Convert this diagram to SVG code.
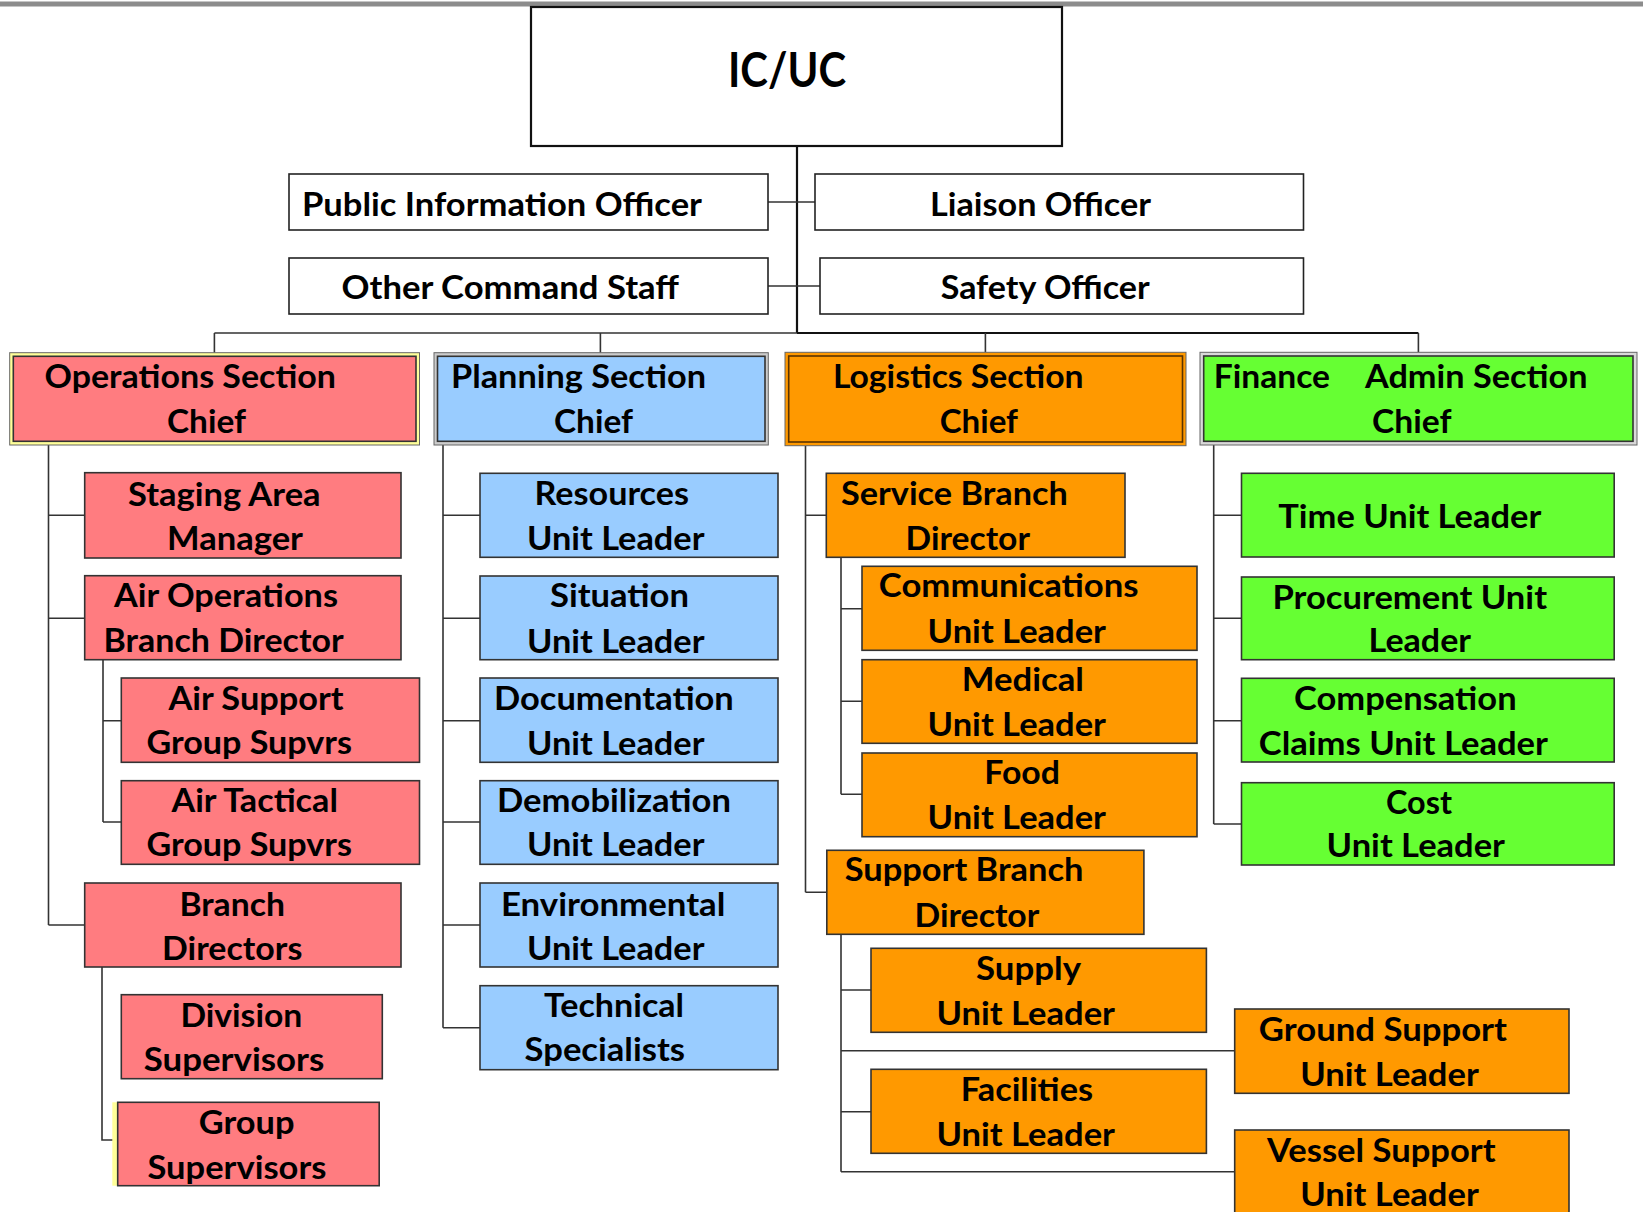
<svg xmlns="http://www.w3.org/2000/svg" width="1643" height="1212" viewBox="0 0 1643 1212">
<style>
.t{font-family:Lato,"Liberation Sans",sans-serif;font-weight:700;font-size:32px;fill:#000}
.big{font-size:47px}
.wb{fill:#fff;stroke:#222;stroke-width:1.6}
.ic{fill:#fff;stroke:#111;stroke-width:2.2}
.r{fill:#FF7C80;stroke:#333;stroke-width:1.6}
.b{fill:#99CCFF;stroke:#333;stroke-width:1.6}
.o{fill:#FF9900;stroke:#333;stroke-width:1.6}
.g{fill:#66FF33;stroke:#333;stroke-width:1.6}
.oi{fill:#FF9900;stroke:#5a3300;stroke-width:1.6}
.band{stroke:#666;stroke-width:1}
.c{fill:none;stroke:#333;stroke-width:1.6}
.cb{fill:none;stroke:#111;stroke-width:2.2}
</style>
<rect x="0" y="0" width="1643" height="1212" fill="#fff"/>
<rect x="0" y="1.5" width="1643" height="5" fill="#8c8c8c"/>
<g id="connectors">
<path class="cb" d="M797,146V333M797,333H1418.4"/>
<path class="c" d="M768,202H815M768,286H820M214.4,333H797M214.4,333V352.7M600.4,333V352.7M985.4,333V352.3M1418.4,333V352.3"/>
<path class="c" d="M48.5,445V925M48.5,515.3H84.7M48.5,618.3H84.7M48.5,925H84.7"/>
<path class="c" d="M103,659.7V822M103,720.7H121.3M103,822H121.3"/>
<path class="c" d="M102,967V1140H117.7"/>
<path class="c" d="M443,445V1027.7M443,515.3H480M443,618.3H480M443,720.7H480M443,822H480M443,925H480M443,1027.7H480"/>
<path class="c" d="M805.5,445.7V892.3M805.5,515.3H826.3M805.5,892.3H826.8"/>
<path class="c" d="M841,557.3V794.3M841,608.7H862M841,701.3H862M841,794.3H862"/>
<path class="c" d="M841,934.3V1171.7M841,990H871M841,1111.7H871M841,1050.7H1234.7M841,1171.7H1234.7"/>
<path class="c" d="M1213.7,445V824M1213.7,515.3H1241.5M1213.7,618.3H1241.5M1213.7,720.7H1241.5M1213.7,824H1241.5"/>
</g>
<g id="ic"><rect class="ic" x="531" y="7" width="531" height="139"/><text class="t big" x="728" y="87" textLength="118" lengthAdjust="spacingAndGlyphs">IC/UC</text></g>
<g id="pio"><rect class="wb" x="289" y="174" width="479" height="56"/><text class="t" x="302" y="215.5" textLength="400" lengthAdjust="spacingAndGlyphs">Public Information Officer</text></g>
<g id="ocs"><rect class="wb" x="289" y="258" width="479" height="56"/><text class="t" x="341.5" y="298.5" textLength="337.5" lengthAdjust="spacingAndGlyphs">Other Command Staff</text></g>
<g id="liaison"><rect class="wb" x="815" y="174" width="488.5" height="56"/><text class="t" x="930" y="215.5" textLength="221" lengthAdjust="spacingAndGlyphs">Liaison Officer</text></g>
<g id="safety"><rect class="wb" x="820" y="258" width="483.5" height="56"/><text class="t" x="940.7" y="298.5" textLength="209" lengthAdjust="spacingAndGlyphs">Safety Officer</text></g>

<g id="ops"><rect class="band" x="9.7" y="352.7" width="409.8" height="92.3" fill="#FFFF99"/><rect class="r" x="13.3" y="356.3" width="402.7" height="85"/>
<text class="t" x="44.5" y="388" textLength="291.5" lengthAdjust="spacingAndGlyphs">Operations Section</text><text class="t" x="167" y="432.5" textLength="79" lengthAdjust="spacingAndGlyphs">Chief</text></g>
<g id="planning"><rect class="band" x="434" y="352.7" width="334.3" height="92.3" fill="#CCCCCC"/><rect class="b" x="437.5" y="356.3" width="327.5" height="85"/>
<text class="t" x="451" y="388" textLength="255" lengthAdjust="spacingAndGlyphs">Planning Section</text><text class="t" x="554" y="432.5" textLength="79" lengthAdjust="spacingAndGlyphs">Chief</text></g>
<g id="logistics"><rect class="band" x="785" y="352.3" width="401" height="93.4" fill="#FF9900"/><rect class="oi" x="788.7" y="356" width="393.8" height="86"/>
<text class="t" x="833" y="388" textLength="250.5" lengthAdjust="spacingAndGlyphs">Logistics Section</text><text class="t" x="939.7" y="432.5" textLength="78.3" lengthAdjust="spacingAndGlyphs">Chief</text></g>
<g id="finance"><rect class="band" x="1200" y="352.3" width="437" height="92.7" fill="#D9D9D9"/><rect class="g" x="1203.7" y="356" width="429.3" height="85.3"/>
<text class="t" y="388"><tspan x="1213.7" textLength="116.3" lengthAdjust="spacingAndGlyphs">Finance</tspan> <tspan x="1365" textLength="222.5" lengthAdjust="spacingAndGlyphs">Admin Section</tspan></text><text class="t" x="1372" y="432.5" textLength="79.5" lengthAdjust="spacingAndGlyphs">Chief</text></g>

<g id="staging"><rect class="r" x="84.7" y="472.7" width="316.3" height="85.3"/><text class="t" x="128" y="505.5" textLength="192.6" lengthAdjust="spacingAndGlyphs">Staging Area</text><text class="t" x="167" y="549.5" textLength="136" lengthAdjust="spacingAndGlyphs">Manager</text></g>
<g id="airops"><rect class="r" x="84.7" y="575.7" width="316.3" height="84"/><text class="t" x="114" y="607" textLength="224" lengthAdjust="spacingAndGlyphs">Air Operations</text><text class="t" x="103.6" y="652" textLength="240" lengthAdjust="spacingAndGlyphs">Branch Director</text></g>
<g id="airsupport"><rect class="r" x="121.3" y="678" width="298.2" height="84.3"/><text class="t" x="168.4" y="709.5" textLength="175.2" lengthAdjust="spacingAndGlyphs">Air Support</text><text class="t" x="146.4" y="753.5" textLength="205.6" lengthAdjust="spacingAndGlyphs">Group Supvrs</text></g>
<g id="airtactical"><rect class="r" x="121.3" y="780.7" width="298.2" height="83.6"/><text class="t" x="171.5" y="812" textLength="166.4" lengthAdjust="spacingAndGlyphs">Air Tactical</text><text class="t" x="146.4" y="855.5" textLength="205.6" lengthAdjust="spacingAndGlyphs">Group Supvrs</text></g>
<g id="branchdirectors"><rect class="r" x="84.7" y="883" width="316.3" height="84"/><text class="t" x="179.4" y="915.5" textLength="105.6" lengthAdjust="spacingAndGlyphs">Branch</text><text class="t" x="162" y="959.5" textLength="140.3" lengthAdjust="spacingAndGlyphs">Directors</text></g>
<g id="division"><rect class="r" x="121.3" y="994.7" width="261" height="84"/><text class="t" x="180.4" y="1027" textLength="121.9" lengthAdjust="spacingAndGlyphs">Division</text><text class="t" x="143.8" y="1071" textLength="180.5" lengthAdjust="spacingAndGlyphs">Supervisors</text></g>
<g id="group"><rect x="112.3" y="1102.3" width="5.4" height="83.4" fill="#FFFF99"/><rect class="r" x="117.7" y="1102.3" width="261.5" height="83.4"/><text class="t" x="198.7" y="1133.5" textLength="95.8" lengthAdjust="spacingAndGlyphs">Group</text><text class="t" x="147.5" y="1178.5" textLength="178.9" lengthAdjust="spacingAndGlyphs">Supervisors</text></g>

<g id="resources"><rect class="b" x="480" y="473.3" width="298" height="84"/><text class="t" x="534.5" y="504.5" textLength="154.5" lengthAdjust="spacingAndGlyphs">Resources</text><text class="t" x="527" y="549.5" textLength="177.5" lengthAdjust="spacingAndGlyphs">Unit Leader</text></g>
<g id="situation"><rect class="b" x="480" y="576" width="298" height="83.7"/><text class="t" x="550" y="607" textLength="139" lengthAdjust="spacingAndGlyphs">Situation</text><text class="t" x="527" y="652.5" textLength="177.5" lengthAdjust="spacingAndGlyphs">Unit Leader</text></g>
<g id="documentation"><rect class="b" x="480" y="678" width="298" height="84.3"/><text class="t" x="494" y="709.5" textLength="239.8" lengthAdjust="spacingAndGlyphs">Documentation</text><text class="t" x="527" y="754.5" textLength="177.5" lengthAdjust="spacingAndGlyphs">Unit Leader</text></g>
<g id="demobilization"><rect class="b" x="480" y="780.7" width="298" height="83.6"/><text class="t" x="497" y="812" textLength="234" lengthAdjust="spacingAndGlyphs">Demobilization</text><text class="t" x="527" y="855.5" textLength="177.5" lengthAdjust="spacingAndGlyphs">Unit Leader</text></g>
<g id="environmental"><rect class="b" x="480" y="883" width="298" height="84"/><text class="t" x="501" y="915.5" textLength="224.4" lengthAdjust="spacingAndGlyphs">Environmental</text><text class="t" x="527" y="959.5" textLength="177.5" lengthAdjust="spacingAndGlyphs">Unit Leader</text></g>
<g id="technical"><rect class="b" x="480" y="985.7" width="298" height="84"/><text class="t" x="544" y="1017" textLength="140" lengthAdjust="spacingAndGlyphs">Technical</text><text class="t" x="524.6" y="1061" textLength="160.4" lengthAdjust="spacingAndGlyphs">Specialists</text></g>

<g id="service"><rect class="o" x="826.3" y="473.3" width="298.7" height="84"/><text class="t" x="841" y="504.5" textLength="226.8" lengthAdjust="spacingAndGlyphs">Service Branch</text><text class="t" x="905.6" y="549.5" textLength="124.4" lengthAdjust="spacingAndGlyphs">Director</text></g>
<g id="communications"><rect class="o" x="862" y="566.3" width="335" height="84"/><text class="t" x="878.8" y="597" textLength="259.8" lengthAdjust="spacingAndGlyphs">Communications</text><text class="t" x="927.6" y="643" textLength="178.4" lengthAdjust="spacingAndGlyphs">Unit Leader</text></g>
<g id="medical"><rect class="o" x="862" y="659.7" width="335" height="83.6"/><text class="t" x="961.7" y="690.5" textLength="122.3" lengthAdjust="spacingAndGlyphs">Medical</text><text class="t" x="927.6" y="736" textLength="178.4" lengthAdjust="spacingAndGlyphs">Unit Leader</text></g>
<g id="food"><rect class="o" x="862" y="753" width="335" height="83.7"/><text class="t" x="984.3" y="783.5" textLength="75.7" lengthAdjust="spacingAndGlyphs">Food</text><text class="t" x="927.6" y="828.5" textLength="178.4" lengthAdjust="spacingAndGlyphs">Unit Leader</text></g>
<g id="support"><rect class="o" x="826.8" y="850.3" width="317.1" height="84"/><text class="t" x="844.7" y="881" textLength="238.8" lengthAdjust="spacingAndGlyphs">Support Branch</text><text class="t" x="914.5" y="926.5" textLength="124.9" lengthAdjust="spacingAndGlyphs">Director</text></g>
<g id="supply"><rect class="o" x="871" y="948.3" width="335.4" height="84"/><text class="t" x="976" y="979.5" textLength="105" lengthAdjust="spacingAndGlyphs">Supply</text><text class="t" x="936.5" y="1024.5" textLength="178.5" lengthAdjust="spacingAndGlyphs">Unit Leader</text></g>
<g id="facilities"><rect class="o" x="871" y="1069.3" width="335.4" height="84"/><text class="t" x="960.7" y="1100.5" textLength="132.3" lengthAdjust="spacingAndGlyphs">Facilities</text><text class="t" x="936.5" y="1145.5" textLength="178.5" lengthAdjust="spacingAndGlyphs">Unit Leader</text></g>
<g id="ground"><rect class="o" x="1234.7" y="1009" width="334.3" height="84.3"/><text class="t" x="1258.8" y="1040.5" textLength="248.2" lengthAdjust="spacingAndGlyphs">Ground Support</text><text class="t" x="1300.3" y="1085.5" textLength="178.5" lengthAdjust="spacingAndGlyphs">Unit Leader</text></g>
<g id="vessel"><rect class="o" x="1234.7" y="1130" width="334.3" height="90"/><text class="t" x="1267" y="1161.5" textLength="228.6" lengthAdjust="spacingAndGlyphs">Vessel Support</text><text class="t" x="1300.3" y="1205.5" textLength="178.5" lengthAdjust="spacingAndGlyphs">Unit Leader</text></g>

<g id="time"><rect class="g" x="1241.5" y="473.3" width="372.7" height="83.7"/><text class="t" x="1278.3" y="527.5" textLength="263" lengthAdjust="spacingAndGlyphs">Time Unit Leader</text></g>
<g id="procurement"><rect class="g" x="1241.5" y="577" width="372.7" height="82.7"/><text class="t" x="1272.5" y="608.5" textLength="274.5" lengthAdjust="spacingAndGlyphs">Procurement Unit</text><text class="t" x="1368.6" y="651.5" textLength="102.4" lengthAdjust="spacingAndGlyphs">Leader</text></g>
<g id="compensation"><rect class="g" x="1241.5" y="678.3" width="372.7" height="83.7"/><text class="t" x="1294" y="709.5" textLength="222.6" lengthAdjust="spacingAndGlyphs">Compensation</text><text class="t" x="1258.8" y="754.5" textLength="289.2" lengthAdjust="spacingAndGlyphs">Claims Unit Leader</text></g>
<g id="cost"><rect class="g" x="1241.5" y="782.7" width="372.7" height="82.3"/><text class="t" x="1386" y="813.5" textLength="66" lengthAdjust="spacingAndGlyphs">Cost</text><text class="t" x="1326.6" y="857" textLength="178.4" lengthAdjust="spacingAndGlyphs">Unit Leader</text></g>
</svg>
